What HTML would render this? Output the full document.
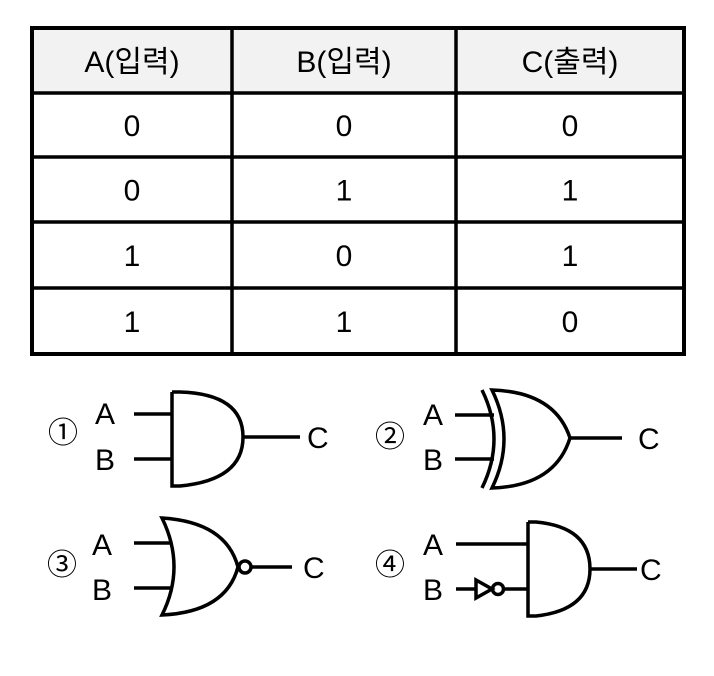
<!DOCTYPE html>
<html><head><meta charset="utf-8"><style>
body{margin:0;width:714px;height:671px;background:#fff;overflow:hidden;font-family:"Liberation Sans","Noto Sans CJK KR",sans-serif}
</style></head><body>
<svg width="714" height="671" font-family="Liberation Sans, Noto Sans CJK KR, sans-serif">
<g id="tbl"></g>
<g fill="none" stroke="#000" stroke-width="3.5">
 <g>
  <path d="M134 414H172M134 459H172M172 392V486H180Q243 480 243 437Q243 394 180 392H172M243 437H300"/>
 </g>
 <g>
  <path d="M455 415H494M455 459H494M482 390Q506 439 482 488"/>
  <path d="M492 390Q516 439 492 488Q555 486 570 438Q555 392 492 390ZM570 438H622"/>
 </g>
 <g>
  <path d="M134 543H172M134 588H172M162 518Q186 567 162 615Q226 612 238 567Q226 522 162 518Z"/>
  <circle cx="245" cy="567" r="6"/><path d="M251 567H292"/>
 </g>
 <g>
  <path d="M456 544H528M456 589H476M476 580L492 589L476 598Z"/><circle cx="498" cy="589" r="5.5"/><path d="M503.5 589H528"/>
  <path d="M528 522V616H536Q590 610 590 569Q590 527 536 522H528M590 569H637"/>
 </g>
</g>
<g font-size="30" fill="#000">
 <text x="95" y="424">A</text><text x="95" y="470">B</text><text x="307" y="448">C</text>
 <text x="423" y="425">A</text><text x="423" y="470">B</text><text x="638" y="449">C</text>
 <text x="92" y="555">A</text><text x="92" y="600">B</text><text x="303" y="578">C</text>
 <text x="423" y="555">A</text><text x="423" y="600">B</text><text x="640" y="580">C</text>
 <text x="63" y="443" font-size="30" text-anchor="middle">①</text>
 <text x="390" y="447" font-size="30" text-anchor="middle">②</text>
 <text x="62" y="575" font-size="30" text-anchor="middle">③</text>
 <text x="390" y="575" font-size="30" text-anchor="middle">④</text>
</g>
</svg>
<script>
const headers=["A(입력)","B(입력)","C(출력)"];
const rowsA=["0","0","1","1"];
const rowsB=["0","1","0","1"];
const rowsC=["0","1","1","0"];
const NS="http://www.w3.org/2000/svg";
const g=document.getElementById('tbl');
const colX=[32,232,456,684], rowY=[28,93,157,222,288,354];
function mk(t,a){const e=document.createElementNS(NS,t);for(const k in a)e.setAttribute(k,a[k]);g.appendChild(e);return e;}
const hb=mk('rect',{x:32,y:28,width:652,height:65,fill:'#f2f2f2'});


const cols=[rowsA,rowsB,rowsC];
for(let c=0;c<3;c++){
 const cx=(colX[c]+colX[c+1])/2;
 const h=mk('text',{x:cx,y:72,'text-anchor':'middle','font-size':30});
 h.textContent=headers[c];
 
 
 for(let r=0;r<4;r++){
  const t=mk('text',{x:cx,y:(rowY[r+1]+rowY[r+2])/2+11,'text-anchor':'middle','font-size':30});
  t.textContent=cols[c][r];
  
  
 }
}
for(let i=1;i<rowY.length-1;i++){const l=mk('line',{x1:32,x2:684,y1:rowY[i],y2:rowY[i],stroke:'#000','stroke-width':3.5});
 
 }
for(let i=1;i<3;i++){const l=mk('line',{x1:colX[i],x2:colX[i],y1:28,y2:354,stroke:'#000','stroke-width':3.5});
 
 }
const b=mk('rect',{x:32,y:28,width:652,height:326,fill:'none',stroke:'#000','stroke-width':4});


</script>
</body></html>
